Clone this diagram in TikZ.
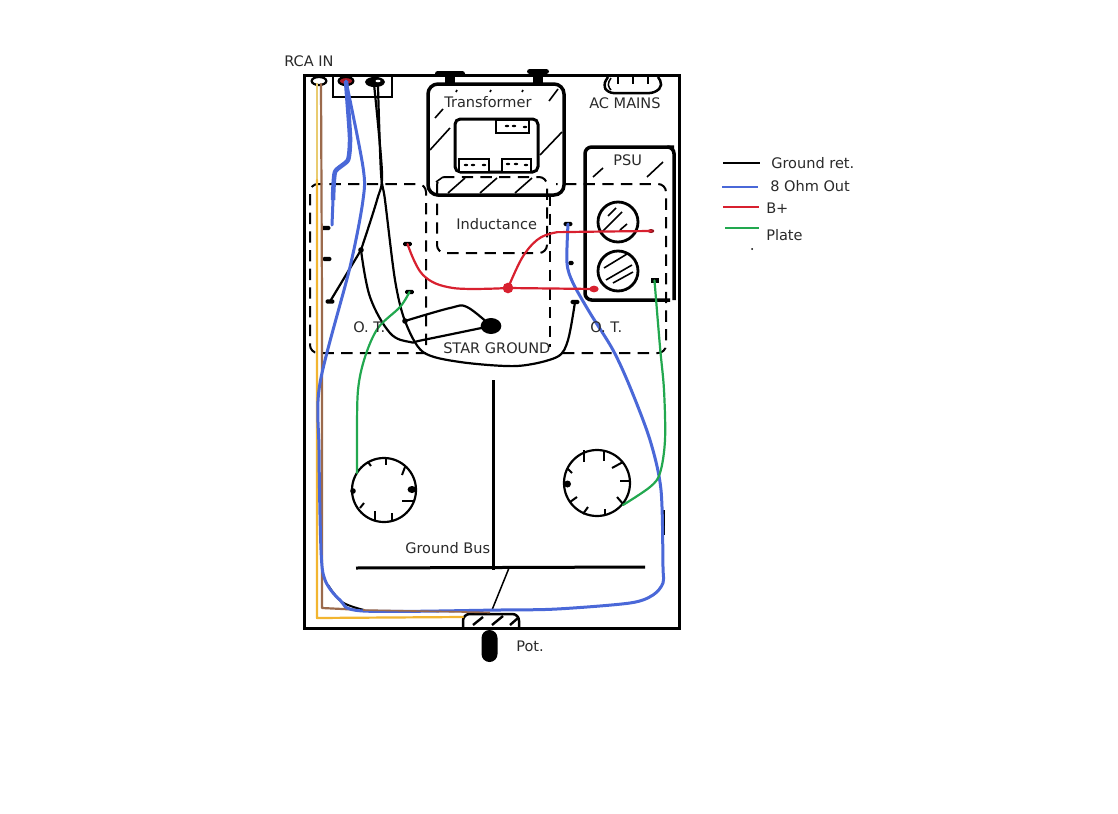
\documentclass[tikz,border=0pt]{standalone}
\usepackage{fontspec}
\setmainfont{DejaVu Sans}
\usetikzlibrary{shapes.geometric}
\definecolor{wblue}{HTML}{4A68D8}
\definecolor{wred}{HTML}{D8202F}
\definecolor{wgreen}{HTML}{22A84F}
\definecolor{wbrown}{HTML}{9B6A4C}
\definecolor{wyellow}{HTML}{F2B530}
\definecolor{wpale}{HTML}{E9CB70}
\definecolor{ink}{HTML}{2A2A2A}
\tikzset{
  px/.style={line width=#1*0.75pt},
  frame/.style={draw=black,px=3},
  heavy/.style={draw=black,px=3.5,rounded corners=7.5pt},
  dashbox/.style={draw=black,px=2,dash pattern=on 8.5pt off 5.5pt,rounded corners=6pt},
  hatch/.style={draw=black,px=1.6},
  tick/.style={draw=black,px=2},
  wire/.style={draw=#1,px=2.2,line join=round,line cap=round},
  bluewire/.style={draw=wblue,px=3,line join=round,line cap=round},
  term/.style={fill=black,inner sep=0pt,minimum width=6.5pt,minimum height=3.2pt,rounded corners=1pt},
  dotn/.style={circle,fill=black,inner sep=0pt,minimum size=4.2pt},
  lab/.style={font=\fontsize{10.9}{13}\selectfont,text=ink,inner sep=0pt,anchor=west},
}
\begin{document}
\begin{tikzpicture}[x=0.75pt,y=-0.75pt]
\useasboundingbox (0,0) rectangle (1118,814);
\fill[white] (0,0) rectangle (1118,814);

% chassis
\draw[frame] (304,75) rectangle (679,628);
\draw[draw=black,px=1.5] (333,75) rectangle (392,97);

% dashed compartments
\draw[dashbox] (426,345) -- (426,184) -- (310,184) -- (310,353) -- (426,353);
\draw[dashbox] (550,195) -- (550,347);
\draw[dashbox] (563,353) -- (666,353) -- (666,184) -- (556,184);
\draw[dashbox] (437,177) rectangle (547,253);

% transformer
\draw[heavy] (428,84) rectangle (564,195);
\draw[draw=black,px=3,rounded corners=4pt] (455,119) rectangle (538,172);
\foreach \a/\b/\c/\d in {496/120/529/133,459/159/489/172,502/159/531/172}{
  \draw[draw=black,fill=white,px=2] (\a,\b) rectangle (\c,\d);
}
\foreach \x/\y in {507/126,514/126,525/127,466/165,473/165,484/165,508/164,516/164,526/165}{
  \fill (\x,\y) ellipse[x radius=2.2,y radius=1.2];
}
\fill[rounded corners=2pt] (435,71) rectangle (465,76);
\fill (445,72) rectangle (455,85);
\fill[rounded corners=2pt] (527,69) rectangle (549,74);
\fill (533,70) rectangle (543,85);
\foreach \a/\b/\c/\d in {435/118/443/109,430/150/450/128,549/101/558/89,540/155/562/132,436/182/443/177,448/193/465/178,480/193/497/178,515/193/532/178,456/92/457/90,490/92/491/90,522/92/523/90}{
  \draw[hatch] (\a,\b) -- (\c,\d);
}

% AC mains
\draw[draw=black,px=2.5,rounded corners=4pt] (608,77) -- (603,85) -- (608,93) -- (655,93) -- (663,85) -- (658,77);
\draw[draw=black,px=1.5,rounded corners=3pt] (611,78) -- (607,85) -- (611,90);
\foreach \x in {618,633,648}{\draw[draw=black,px=2] (\x,76) -- (\x,84);}

% PSU
\draw[draw=black,px=3.5,rounded corners=5pt] (670,300) -- (585,300) -- (585,147) -- (674,147);
\draw[draw=black,px=3.5,rounded corners=5pt] (668,147) -- (674,147) -- (674,300);
\draw[hatch] (593,177) -- (603,168);
\draw[hatch] (647,177) -- (663,162);
\draw[draw=black,px=2.8] (618,222) circle[radius=20];
\draw[draw=black,px=2.8] (618,271) circle[radius=20];
\foreach \a/\b/\c/\d in {602/232/622/212,608/216/616/208,620/230/627/224,604/268/627/254,606/280/632/265,613/283/633/272}{
  \draw[hatch] (\a,\b) -- (\c,\d);
}

% tube sockets
\draw[draw=black,px=2.2] (384,490) circle[radius=32];
\draw[draw=black,px=2.2] (597,483) circle[radius=33];
\foreach \a/\b/\c/\d in {386/458/386/465,402/475/405/467,402/501/413/501,392/520/392/513,375/520/375/511,360/508/364/503,368/462/371/466}{
  \draw[tick] (\a,\b) -- (\c,\d);
}
\foreach \a/\b/\c/\d in {584/450/584/462,604/450/604/461,612/468/623/462,620/481/629/481,617/497/624/505,605/509/605/516,583/514/588/507,570/502/577/497,567/468/572/473}{
  \draw[tick] (\a,\b) -- (\c,\d);
}
\fill (353,491) circle[radius=2.8];
\fill (412,489.5) ellipse[x radius=4.5,y radius=3.5];
\fill (567.5,484) ellipse[x radius=3.5,y radius=3.5];

% ground bus
\draw[draw=black,px=3] (493.5,380) -- (493.5,570);
\draw[draw=black,px=3] (356,568) -- (645,567);
\coordinate (busTap) at (509,568);

% pot
\draw[draw=black,px=2.5,rounded corners=5pt] (463,628) -- (463,614) -- (519,614) -- (519,628);
\foreach \a/\b/\c/\d in {473/625/483/617,492/625/503/616,510/625/518/618}{
  \draw[draw=black,px=2.4] (\a,\b) -- (\c,\d);
}
\fill[rounded corners=6pt] (481.5,630) rectangle (497.5,662);
\coordinate (potTap) at (492,610);

% jacks
\node[ellipse,draw=black,fill=white,px=2.2,minimum width=11pt,minimum height=6pt,inner sep=0pt] (jackW) at (319,81) {};
\node[ellipse,draw=black,fill=wred!80!black,px=2.2,minimum width=11pt,minimum height=6pt,inner sep=0pt] (jackR) at (346,81) {};
\node[ellipse,draw=black,fill=black,px=2.2,minimum width=13pt,minimum height=6pt,inner sep=0pt] (jackB) at (375,82) {};
\fill[white] (378,81) ellipse[x radius=2.5,y radius=1.3];

% terminals
\node[term] (tA) at (326,228) {};
\node[term] (tB) at (327,259) {};
\node[term] (tC) at (330,301.5) {};
\node[dotn] (tD) at (361,250) {};
\node[term] (tE) at (407.5,244) {};
\node[term] (tF) at (409.5,292) {};
\node[dotn] (tG) at (405,321) {};
\node[term] (tH) at (568,224) {};
\node[term,minimum width=4pt] (tI) at (571,263) {};
\node[term] (tJ) at (575,302) {};
\node[term,minimum width=6pt,minimum height=4pt,rounded corners=0pt] (tK) at (654.5,280.5) {};
\node[ellipse,fill=black,inner sep=0pt,minimum width=15.5pt,minimum height=12pt] (star) at (491,326) {};
\node[circle,fill=wred,inner sep=0pt,minimum size=8pt] (rdot) at (508,288) {};
\node[ellipse,fill=wred,inner sep=0pt,minimum width=7pt,minimum height=5pt] (rend) at (594,289) {};
\node[ellipse,fill=wred!70!black,inner sep=0pt,minimum width=5pt,minimum height=3pt] (rtop) at (651,231) {};

% yellow + brown
\coordinate (yTop) at (317,84);
\coordinate (bTop) at (321,84);
\draw[wire=wpale] (yTop) -- (317,180);
\draw[wire=wyellow] (317,180) -- (317,618) -- (463,617);
\draw[wire=wbrown] (bTop) -- (322,300) -- (322,608) -- (363,610);

% black grounds
\coordinate (gA) at (374,84);
\coordinate (gB) at (378,87);
\draw[wire=black] plot[smooth,tension=.5] coordinates {(gA) (382,173) (377,200) (tD.center)};
\draw[wire=black] (tD.center) -- (tC.center);
\draw[wire=black] plot[smooth,tension=.5] coordinates {(gB) (381,173) (385,200) (395,280) (tG.center) (423,352) (460,362) (517,366) (557,357) (568,340) (tJ.center)};
\draw[wire=black] plot[smooth,tension=.6] coordinates {(tD.center) (370,297) (390,333) (410,342) (423,340) (star.center)};
\draw[wire=black] plot[smooth,tension=.6] coordinates {(tG.center) (450,308) (467,307) (star.center)};
\draw[draw=black,px=1.5] (busTap) -- (potTap);

% blue
\draw[draw=wblue,px=4.5,line join=round] plot[smooth,tension=.35] coordinates {(jackR.center) (350,137) (348,160) (335,172) (333,200)};
\draw[bluewire] (333,200) -- (332,225);
\draw[draw=black,px=2] plot[smooth,tension=.6] coordinates {(328,585) (342,602) (364,610)};
\draw[draw=black,px=2] (664,510) -- (664,535);
\draw[bluewire] plot[smooth,tension=.5] coordinates {(jackR.center) (363,167) (363,200) (350,267) (320,383) (319,450) (321,550) (325,580) (340,600) (363,611) (500,610) (557,609) (630,603) (653,595) (663,583) (663,567) (661,490) (650,440) (630,387) (613,350) (590,313) (573,283) (567,263) (tH.center)};
\draw[draw=wbrown,px=1.6] (363,610) -- (490,612.5);

% red
\draw[wire=wred] plot[smooth,tension=.6] coordinates {(tE.center) (423,275) (453,288) (rdot.center)};
\draw[wire=wred] (rdot.center) -- (rend.center);
\draw[wire=wred] plot[smooth,tension=.6] coordinates {(rdot.center) (522,258) (537,240) (553,233) (570,232) (rtop.center)};

% green
\draw[wire=wgreen] plot[smooth,tension=.55] coordinates {(tF.center) (400,307) (378,328) (365,357) (358,390) (357,440) (357,473)};
\draw[wire=wgreen] plot[smooth,tension=.55] coordinates {(tK.center) (660,347) (664,390) (665,440) (660,473) (650,487) (623,505)};

% labels
\node[lab] (l1) at (284,61) {RCA IN};
\node[lab] (l2) at (444,102) {Transformer};
\node[lab] (l3) at (589,103) {AC MAINS};
\node[lab] (l4) at (613,160) {PSU};
\node[lab] (l5) at (456,224) {Inductance};
\node[lab] (l6) at (353,327) {O. T.};
\node[lab] (l7) at (590,327) {O. T.};
\node[lab] (l8) at (443,348) {STAR GROUND};
\node[lab] (l9) at (405,548) {Ground Bus};
\node[lab] (l10) at (516,646) {Pot.};

% legend
\coordinate (k1a) at (723,163); \coordinate (k1b) at (760,163);
\coordinate (k2a) at (722,187); \coordinate (k2b) at (758,187);
\coordinate (k3a) at (723,207); \coordinate (k3b) at (759,207);
\coordinate (k4a) at (725,228); \coordinate (k4b) at (759,228);
\draw[draw=black,px=2.8] (k1a) -- (k1b);
\draw[draw=wblue,px=2.8] (k2a) -- (k2b);
\draw[draw=wred,px=2.8] (k3a) -- (k3b);
\draw[draw=wgreen,px=2.8] (k4a) -- (k4b);
\fill (752,249) circle[radius=1];
\node[lab] (k1) at (771,163) {Ground ret.};
\node[lab] (k2) at (770,186) {8 Ohm Out};
\node[lab] (k3) at (766,208) {B+};
\node[lab] (k4) at (766,235) {Plate};
\end{tikzpicture}
\end{document}
